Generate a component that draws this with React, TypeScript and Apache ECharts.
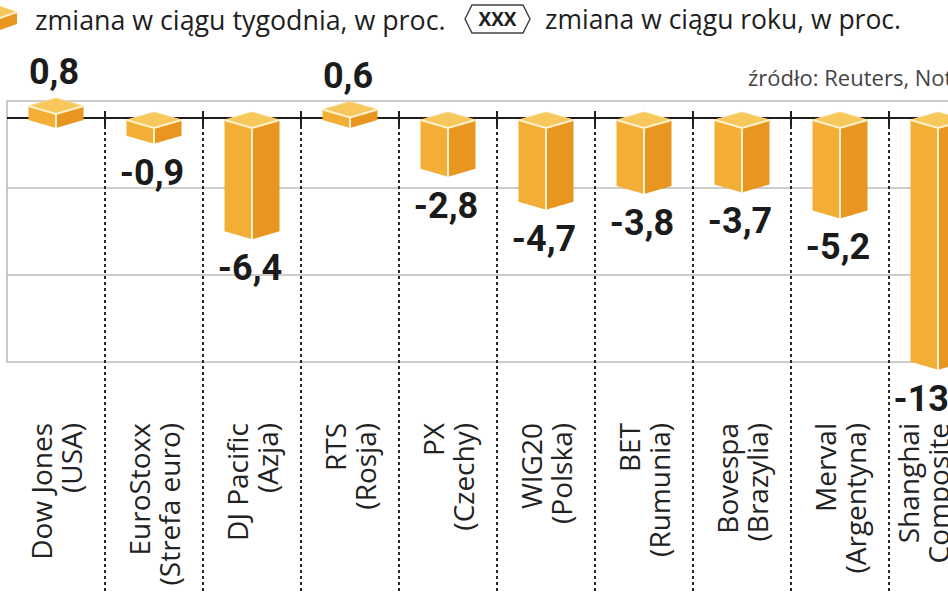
import React, { useEffect, useRef } from "react";
import * as echarts from "echarts";

const categories = [
  "Dow Jones\n(USA)",
  "EuroStoxx\n(Strefa euro)",
  "DJ Pacific\n(Azja)",
  "RTS\n(Rosja)",
  "PX\n(Czechy)",
  "WIG20\n(Polska)",
  "BET\n(Rumunia)",
  "Bovespa\n(Brazylia)",
  "Merval\n(Argentyna)",
  "Shanghai\nComposite\n(Chiny)",
];
const weeklyChange = [0.8, -0.9, -6.4, 0.6, -2.8, -4.7, -3.8, -3.7, -5.2, -13.9];
const yMin = -15;
const yMax = 0;
const yInterval = 5;
const legendWeekly = "zmiana w ciągu tygodnia, w proc.";
const legendYearly = "zmiana w ciągu roku, w proc.";
const legendYearlyMarker = "XXX";
const sourceText = "źródło: Reuters, Notowania";

const TOP = "#F8C75C";
const LEFT = "#F3AE36";
const RIGHT = "#E8961F";
const EDGE = "#FFF1CC";
const HW = 27.5;
const DY = 8;
const DEPTH = 27;

const fmt = (v: number) => v.toFixed(1).replace(".", ",");

export default function App() {
  const ref = useRef<HTMLDivElement>(null);
  useEffect(() => {
    if (!ref.current) return;
    const chart = echarts.init(ref.current, null, { renderer: "svg" });

    const renderBar = (_params: any, api: any) => {
      const i = api.value(0);
      const v = api.value(1);
      const base = api.coord([i, 0]);
      const end = api.coord([i, v]);
      const cx = base[0];
      const yBase = base[1] + DEPTH;
      const yEnd = end[1] + DEPTH;
      const yTop = Math.min(yBase, yEnd);
      const yBot = Math.max(yBase, yEnd);
      const children: any[] = [
        {
          type: "polygon",
          shape: { points: [[cx - HW, yTop - DY], [cx, yTop], [cx, yBot], [cx - HW, yBot - DY]] },
          style: { fill: LEFT },
        },
        {
          type: "polygon",
          shape: { points: [[cx, yTop], [cx + HW, yTop - DY], [cx + HW, yBot - DY], [cx, yBot]] },
          style: { fill: RIGHT },
        },
        {
          type: "polygon",
          shape: { points: [[cx - HW, yTop - DY], [cx, yTop - 2 * DY], [cx + HW, yTop - DY], [cx, yTop]] },
          style: { fill: TOP, stroke: "#FBD98A", lineWidth: 1 },
        },
        {
          type: "polyline",
          shape: { points: [[cx - HW, yTop - DY], [cx, yTop], [cx + HW, yTop - DY]] },
          style: { stroke: EDGE, lineWidth: 2, fill: null },
        },
        {
          type: "line",
          shape: { x1: cx, y1: yTop, x2: cx, y2: yBot },
          style: { stroke: EDGE, lineWidth: 2 },
        },
        {
          type: "text",
          style: {
            text: fmt(v),
            x: cx - 2,
            y: v >= 0 ? yTop - 2 * DY - 8 : yBot + 11,
            align: "center",
            verticalAlign: v >= 0 ? "bottom" : "top",
            fill: "#1b1b1b",
            fontSize: 36,
            fontWeight: "bold",
            fontFamily: "Roboto, sans-serif",
          },
        },
      ];
      return { type: "group", children };
    };

    const renderFrame = (_params: any, api: any) => {
      const i = api.value(0);
      const base = api.coord([i, 0]);
      const band = api.size([1, 0])[0];
      const xl = base[0] - band / 2;
      const xr = base[0] + band / 2;
      const yz = base[1] + 17;
      return {
        type: "group",
        children: [
          { type: "line", shape: { x1: xl, y1: yz, x2: xr, y2: yz }, style: { stroke: "#1e1e1e", lineWidth: 2 } },
          { type: "line", shape: { x1: xr, y1: yz - 7, x2: xr, y2: yz + 8 }, style: { stroke: "#1e1e1e", lineWidth: 2 } },
          {
            type: "line",
            shape: { x1: xr, y1: yz + 8, x2: xr, y2: api.getHeight() },
            style: { stroke: "#2a2a2a", lineWidth: 2, lineDash: [3, 3] },
          },
        ],
      };
    };

    const option: any = {
      animation: false,
      grid: { left: 7, top: 101, width: 980, height: 261 },
      xAxis: {
        type: "category",
        data: categories,
        axisLine: { show: false },
        axisTick: { show: false },
        splitLine: { show: false },
        axisLabel: {
          interval: 0,
          rotate: 90,
          margin: 61,
          fontSize: 28,
          lineHeight: 30,
          color: "#222",
          fontFamily: "'Open Sans', sans-serif",
        },
      },
      yAxis: {
        type: "value",
        min: yMin,
        max: yMax,
        interval: yInterval,
        axisLabel: { show: false },
        axisTick: { show: false },
        axisLine: { show: true, lineStyle: { color: "#b5b5b5", width: 1.5 } },
        splitLine: { show: true, lineStyle: { color: "#bdbdbd", width: 1.5 } },
      },
      series: [
        {
          type: "custom",
          name: "frame",
          z: 1,
          clip: false,
          renderItem: renderFrame,
          encode: { x: 0, y: 1 },
          data: categories.map((_, i) => [i, 0]),
        },
        {
          type: "custom",
          name: legendWeekly,
          z: 2,
          clip: false,
          renderItem: renderBar,
          encode: { x: 0, y: 1 },
          data: weeklyChange.map((v, i) => [i, v]),
        },
      ],
      graphic: [
        {
          type: "polygon",
          shape: { points: [[-23, 12], [-3, 5], [17, 12], [-3, 19]] },
          style: { fill: TOP },
        },
        {
          type: "polygon",
          shape: { points: [[-3, 19], [17, 12], [17, 24], [-3, 31]] },
          style: { fill: RIGHT },
        },
        {
          type: "polygon",
          shape: { points: [[-23, 12], [-3, 19], [-3, 31], [-23, 24]] },
          style: { fill: LEFT },
        },
        {
          type: "polyline",
          shape: { points: [[-23, 12], [-3, 19], [17, 12]] },
          style: { stroke: EDGE, lineWidth: 2, fill: null },
        },
        {
          type: "text",
          x: 35,
          y: 19,
          style: {
            text: legendWeekly,
            fill: "#1e1e1e",
            fontSize: 26.8,
            fontFamily: "'Open Sans', sans-serif",
            verticalAlign: "middle",
            align: "left",
          },
        },
        {
          type: "polygon",
          shape: { points: [[465, 19], [472, 5], [523, 5], [530, 19], [523, 33], [472, 33]] },
          style: { fill: "#fff", stroke: "#444", lineWidth: 1.5 },
        },
        {
          type: "text",
          x: 497.5,
          y: 19,
          style: {
            text: legendYearlyMarker,
            fill: "#1e1e1e",
            fontSize: 19,
            fontWeight: "bold",
            fontFamily: "'Open Sans', sans-serif",
            verticalAlign: "middle",
            align: "center",
          },
        },
        {
          type: "text",
          x: 545,
          y: 19,
          style: {
            text: legendYearly,
            fill: "#1e1e1e",
            fontSize: 26.5,
            fontFamily: "'Open Sans', sans-serif",
            verticalAlign: "middle",
            align: "left",
          },
        },
        {
          type: "text",
          x: 748,
          y: 77,
          style: {
            text: sourceText,
            fill: "#444",
            fontSize: 22,
            fontFamily: "'Open Sans', sans-serif",
            verticalAlign: "middle",
            align: "left",
          },
        },
      ],
    };
    chart.setOption(option);
    return () => chart.dispose();
  }, []);
  return (
    <div
      style={{ position: "fixed", left: 0, top: 0, width: 948, height: 593, overflow: "hidden", background: "#fff" }}
    >
      <div ref={ref} style={{ width: 1000, height: 593 }} />
    </div>
  );
}
